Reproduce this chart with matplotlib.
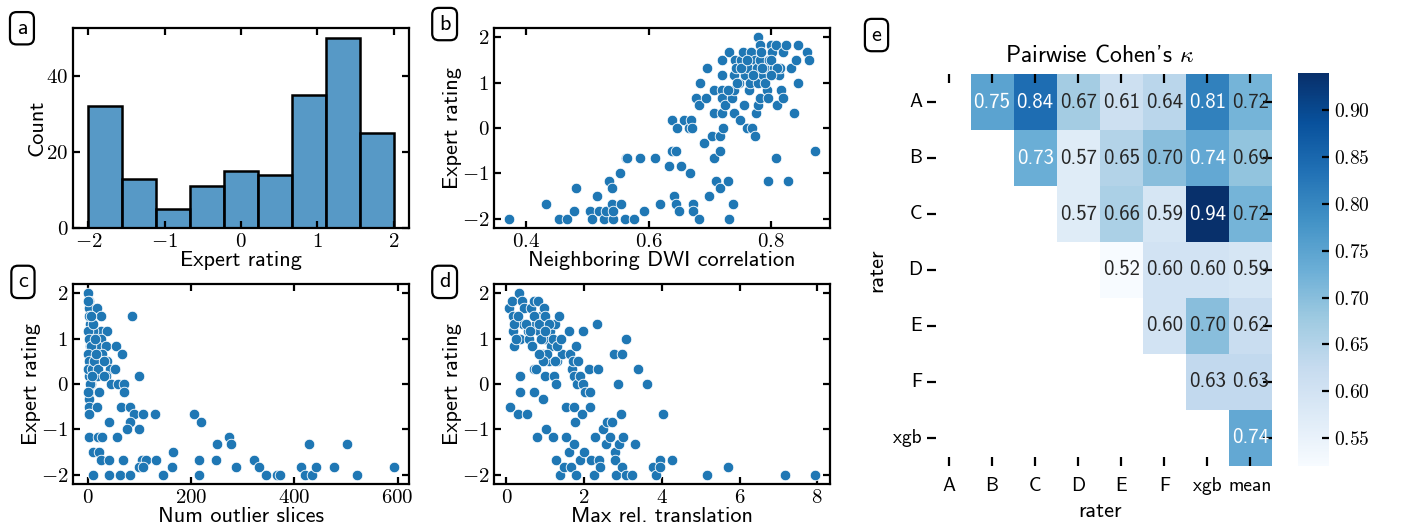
import numpy as np
import matplotlib
matplotlib.use('Agg')
import matplotlib.pyplot as plt
import seaborn as sns

# panel a: histogram of expert ratings
hist_edges = [-2.0, -1.556, -1.111, -0.667, -0.222, 0.222, 0.667, 1.111, 1.556, 2.0]
hist_counts = [32, 13, 5, 11, 15, 14, 35, 50, 25]

# panel b: (neighboring DWI correlation, expert rating)
b_points = [
    (0.373, -2), (0.432, -1.67), (0.454, -2), (0.467, -2), (0.478, -1.83), (0.482, -1.33),
    (0.504, -1.83), (0.507, -2), (0.516, -1.5), (0.519, -1.83), (0.528, -2), (0.530, -1.83),
    (0.536, -1.17), (0.540, -1.33), (0.540, -1.67), (0.542, -2), (0.542, -1.83), (0.554, -1),
    (0.555, -1.67), (0.561, -2), (0.563, -0.67), (0.565, -0.67), (0.577, -2), (0.586, -0.67),
    (0.592, -1.83), (0.611, -0.67), (0.619, -1.67), (0.633, -0.83), (0.638, -0.5), (0.639, 0.17),
    (0.641, -1.5), (0.644, -0.5), (0.644, -1.67), (0.647, 0), (0.650, -1.83), (0.653, -0.83),
    (0.658, 0.17), (0.666, 0), (0.668, -1), (0.670, 0.17), (0.671, 0), (0.672, -1.67),
    (0.672, -1.83), (0.678, 0.67), (0.682, 0.5), (0.682, -2), (0.684, 1), (0.694, 0.67),
    (0.691, -0.33), (0.695, 1.33), (0.699, -1.5), (0.704, -0.17), (0.706, 0.83), (0.707, 0.33),
    (0.707, -0.67), (0.710, -1.17), (0.716, -0.17), (0.716, -0.5), (0.717, -1.33), (0.720, 1.5),
    (0.720, 1.17), (0.720, 0.83), (0.720, 0.67), (0.720, 0.33), (0.722, 0), (0.724, 0.5),
    (0.729, -1.17), (0.731, 1.67), (0.732, -2), (0.736, 0.67), (0.738, -1.67), (0.739, 0.83),
    (0.739, 0.33), (0.740, 1.17), (0.741, 1.5), (0.743, 1.33), (0.747, 1), (0.749, 0.17),
    (0.751, 1.5), (0.754, 1.67), (0.756, 0.5), (0.758, 1.17), (0.761, 0), (0.762, 1.33),
    (0.763, 0.83), (0.766, 1), (0.767, 1.67), (0.769, 0), (0.773, -0.17), (0.774, 1.5),
    (0.776, 0.33), (0.777, 1.33), (0.778, 0.5), (0.779, 2), (0.779, 1), (0.781, 1.5),
    (0.782, 1.83), (0.782, 0.67), (0.783, 1.67), (0.786, 1.17), (0.791, 1.33), (0.793, 0.83),
    (0.794, -1.17), (0.794, 0.67), (0.797, 1.5), (0.799, 1.83), (0.802, 1.67), (0.805, 1.33),
    (0.808, 1.83), (0.808, -0.67), (0.810, 0.5), (0.813, 1.17), (0.815, 1.33), (0.816, 0.83),
    (0.819, 0.67), (0.820, 1.67), (0.824, 1.83), (0.827, -1.17), (0.833, 1.33), (0.837, 0.33),
    (0.840, 1.5), (0.843, 1.83), (0.843, 1), (0.859, 1.67), (0.862, 1.5), (0.871, -0.5),
    (0.745, 1.0), (0.770, 1.17), (0.790, 1.0), (0.800, 1.5), (0.810, 1.33), (0.750, 1.33),
    (0.730, 0.83), (0.760, 1.5), (0.785, 1.33), (0.800, 1.17),
]

# panel c: (num outlier slices, expert rating)
c_points = [
    (0, 2), (1, 1.83), (1, 1.67), (17, 1.67), (3, 1.5), (25, 1.5), (86, 1.5), (3, 1.33),
    (3, 1.17), (25, 1.17), (37, 1.17), (9, 1.17), (3, 1), (26, 1), (3, 0.83), (17, 0.83),
    (35, 0.83), (55, 0.83), (10, 0.67), (28, 0.67), (66, 0.67), (3, 0.67), (36, 0.5),
    (23, 0.5), (3, 0.5), (13, 0.33), (43, 0.33), (52, 0.33), (3, 0.33), (1, 0.17), (18, 0.17),
    (34, 0.17), (98, 0.17), (6, 0), (44, 0), (59, 0), (70, 0), (1, -0.17), (21, -0.17),
    (70, -0.17), (1, -0.33), (1, -0.5), (17, -0.5), (63, -0.5), (81, -0.5), (1, -0.67),
    (89, -0.67), (107, -0.67), (130, -0.67), (41, -0.83), (81, -0.83), (76, -1), (99, -1),
    (1, -1.17), (19, -1.17), (27, -1.17), (57, -1.17), (10, -1.5), (22, -1.5), (25, -1.67),
    (40, -1.67), (67, -1.67), (105, -1.67), (112, -1.67), (131, -1.67), (165, -1.5),
    (99, -1.83), (107, -1.83), (163, -1.83), (9, -2), (40, -2), (62, -2), (81, -2), (145, -2),
    (206, -0.67), (219, -0.83), (215, -1.67), (215, -2), (248, -1.67), (250, -1.33),
    (274, -1.17), (277, -1.33), (286, -1.83), (321, -1.67), (332, -1.83), (345, -2), (366, -2),
    (371, -2), (413, -1.83), (421, -2), (429, -1.33), (434, -2), (441, -1.83), (477, -1.83),
    (501, -1.33), (521, -2), (592, -1.83),
    (0, 1.83), (2, 1.5), (0, 1.17), (1, 1), (5, 0.83), (0, 0.67), (2, 0.5), (0, 0.33),
    (8, 0.33), (4, 0), (0, -0.17), (10, 1.33), (12, 0.5), (14, 1.0), (20, 0.33), (30, 0.5),
    (6, 1.5), (8, 0.17), (15, 0.67), (2, -0.67), (30, 0.17),
]

# panel d: (max rel. translation, expert rating)
d_points = [
    (0.09, -0.5), (0.06, 1.67), (0.15, 1.83), (0.17, 1.5), (0.17, 1.17), (0.19, 0.83),
    (0.30, -0.67), (0.33, 2), (0.34, 0.17), (0.36, -0.17), (0.36, 1), (0.40, 1.83),
    (0.43, 1.33), (0.46, 1.67), (0.53, -0.67), (0.55, 1.17), (0.57, 1), (0.63, 1.67),
    (0.66, 0.83), (0.70, -0.17), (0.72, 0.33), (0.70, 1.83), (0.75, 1.33), (0.79, -1.17),
    (0.80, 1.83), (0.83, 1.17), (0.89, 1.5), (0.94, -0.33), (0.94, 0.67), (0.96, 1.67),
    (0.98, 0.17), (1.00, 1), (1.03, -1), (1.09, 0.5), (1.13, 1.17), (1.20, -1.17),
    (1.22, 0.17), (1.26, 1.33), (1.28, 0), (1.28, -1.67), (1.30, 0.5), (1.34, 1.5),
    (1.39, -2), (1.43, 0.67), (1.47, -1.83), (1.52, -1.17), (1.52, -0.5), (1.60, -1.5),
    (1.61, 1.17), (1.64, 0.67), (1.66, -1.83), (1.69, 0.33), (1.71, 0.5), (1.73, -0.5),
    (1.75, -1.33), (1.77, -0.83), (1.78, -2), (1.80, 0.83), (1.75, 0.17), (1.82, 0),
    (1.85, 0.5), (1.88, -1.67), (1.90, 0.17), (1.94, -0.67), (1.97, 1.17), (1.97, 0),
    (1.99, -1.5), (2.03, -0.17), (2.12, 0.33), (2.14, -0.5), (2.16, -0.17), (2.18, -1.67),
    (2.26, -2), (2.29, -1.17), (2.34, 1.33), (2.36, 0.33), (2.37, -1.67), (2.40, -1.83),
    (2.48, -1), (2.57, -1.33), (2.60, -0.83), (2.67, -1.17), (2.72, -0.83), (2.78, 0.67),
    (2.79, -1.5), (2.80, -1.67), (2.81, -2), (2.86, 0), (2.90, -1.33), (2.96, -0.67),
    (2.97, -1.83), (2.98, 0.67), (3.01, -1.17), (3.07, 1), (3.08, -2), (3.23, -2),
    (3.32, -1.33), (3.38, 0.33), (3.61, 0), (3.77, -1.83), (3.84, -2), (3.94, -1.67),
    (3.94, -1.83), (4.04, -0.67), (4.25, -1.67), (5.16, -2), (5.70, -1.83), (7.16, -2),
    (7.94, -2),
    (0.20, 1.33), (0.25, 1.0), (0.30, 1.5), (0.50, 1.33), (0.60, 1.17), (0.70, 1.5),
    (0.85, 1.33), (0.90, 1.0), (1.00, 1.5), (1.10, 1.33), (1.15, 0.83), (1.20, 1.0),
    (1.05, 0.67), (1.30, 0.83), (1.40, 1.0), (0.95, 0.5), (1.25, 0.5), (1.00, 1.17),
    (0.85, 0.67), (0.75, 0.33),
]

# panel e: pairwise Cohen's kappa
rows = ['A', 'B', 'C', 'D', 'E', 'F', 'xgb']
cols = ['A', 'B', 'C', 'D', 'E', 'F', 'xgb', 'mean']
kappa = np.array([
    [np.nan, 0.75, 0.84, 0.67, 0.61, 0.64, 0.81, 0.72],
    [np.nan, np.nan, 0.73, 0.57, 0.65, 0.70, 0.74, 0.69],
    [np.nan, np.nan, np.nan, 0.57, 0.66, 0.59, 0.94, 0.72],
    [np.nan, np.nan, np.nan, np.nan, 0.52, 0.60, 0.60, 0.59],
    [np.nan, np.nan, np.nan, np.nan, np.nan, 0.60, 0.70, 0.62],
    [np.nan, np.nan, np.nan, np.nan, np.nan, np.nan, 0.63, 0.63],
    [np.nan, np.nan, np.nan, np.nan, np.nan, np.nan, np.nan, 0.74],
])

plt.rcParams['font.family'] = ['cmr10', 'DejaVu Sans']
plt.rcParams['mathtext.fontset'] = 'cm'
plt.rcParams['axes.formatter.use_mathtext'] = True
plt.rcParams['axes.linewidth'] = 1.6
for a in ['xtick', 'ytick']:
    plt.rcParams[a + '.direction'] = 'in'
    plt.rcParams[a + '.major.size'] = 5
    plt.rcParams[a + '.major.width'] = 1.6
    plt.rcParams[a + '.labelsize'] = 15
plt.rcParams['xtick.top'] = True
plt.rcParams['ytick.right'] = True

SANS = 'cmss10'
LABEL = 16
blue = '#1f77b4'

fig = plt.figure(figsize=(14.16, 5.23), dpi=100)
ax_a = fig.add_axes([0.0516, 0.564, 0.2373, 0.3824])
ax_b = fig.add_axes([0.3489, 0.564, 0.2373, 0.3824])
ax_c = fig.add_axes([0.0516, 0.0746, 0.2373, 0.3824])
ax_d = fig.add_axes([0.3489, 0.0746, 0.2373, 0.3824])
ax_e = fig.add_axes([0.655, 0.109, 0.2433, 0.7495])
cax = fig.add_axes([0.9167, 0.109, 0.0219, 0.7514])

# a
ax_a.bar(hist_edges[:-1], hist_counts, width=np.diff(hist_edges), align='edge',
         facecolor=(0.122, 0.467, 0.706, 0.75), edgecolor='black', linewidth=1.8)
ax_a.set_xticks([-2, -1, 0, 1, 2])
ax_a.set_yticks([0, 20, 40])
ax_a.set_xlabel('Expert rating', fontfamily=SANS, fontsize=LABEL, labelpad=0)
ax_a.set_ylabel('Count', fontfamily=SANS, fontsize=LABEL, labelpad=0)

def scatter_panel(ax, pts, xlabel, xticks):
    x, y = zip(*pts)
    ax.scatter(x, y, s=58, c=blue, edgecolors='white', linewidths=0.6, zorder=3)
    ax.set_xticks(xticks)
    ax.set_yticks([-2, -1, 0, 1, 2])
    ax.set_ylim(-2.2, 2.2)
    ax.set_xlabel(xlabel, fontfamily=SANS, fontsize=LABEL, labelpad=0)
    ax.set_ylabel('Expert rating', fontfamily=SANS, fontsize=LABEL, labelpad=0)

scatter_panel(ax_b, b_points, 'Neighboring DWI correlation', [0.4, 0.6, 0.8])
ax_b.set_xlim(0.348, 0.896)
scatter_panel(ax_c, c_points, 'Num outlier slices', [0, 200, 400, 600])
ax_c.set_xlim(-29, 622)
scatter_panel(ax_d, d_points, 'Max rel. translation', [0, 2, 4, 6, 8])
ax_d.set_xlim(-0.32, 8.33)

# e
sns.heatmap(kappa, ax=ax_e, cbar_ax=cax, cmap='Blues', annot=True, fmt='.2f',
            annot_kws={'fontfamily': SANS, 'fontsize': 15},
            xticklabels=cols, yticklabels=rows)
ax_e.tick_params(labelfontfamily=SANS, labelsize=14, length=6.5, width=1.6,
                 top=True, right=True, direction='in')
ax_e.tick_params(axis='x', pad=8)
ax_e.tick_params(axis='y', pad=4)
ax_e.set_yticklabels(rows, rotation=0)
ax_e.set_xlabel('rater', fontfamily=SANS, fontsize=16, labelpad=5)
ax_e.set_ylabel('rater', fontfamily=SANS, fontsize=16, labelpad=5)
ax_e.set_title("Pairwise Cohen's $\\kappa$", fontfamily=SANS, fontsize=17, pad=9)
cax.tick_params(direction='in', length=5, width=1.6, labelsize=14)
cax.set_yticks([0.55, 0.60, 0.65, 0.70, 0.75, 0.80, 0.85, 0.90])

# panel letters
for letter, fx, fy in [('a', 0.0155, 0.946), ('b', 0.314, 0.954), ('c', 0.0162, 0.461),
                       ('d', 0.314, 0.461), ('e', 0.619, 0.933)]:
    fig.text(fx, fy, letter, fontfamily=SANS, fontsize=16, ha='center', va='center',
             bbox=dict(boxstyle='round,pad=0.3', fc='white', ec='black', lw=1.6))

fig.savefig('out.png', dpi=100)
